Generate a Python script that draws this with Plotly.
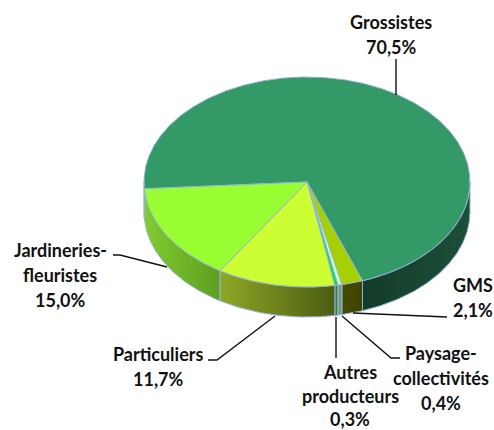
import numpy as np
import plotly.graph_objects as go

categories = ["Grossistes", "GMS", "Paysage-collectivités", "Autres producteurs", "Particuliers", "Jardineries-fleuristes"]
shares = [70.5, 2.1, 0.4, 0.3, 11.7, 15.0]
top_colors = ["#339966", "#A6D000", "#CCFFCC", "#00E040", "#CCFF33", "#99FF33"]
side_left = ["#1C4F38", "#454D00", "#7C9C86", "#3F8038", "#8FA726", "#82CC30"]
side_right = ["#143C2A", "#3C4300", "#6F8F80", "#3A7030", "#4B5D12", "#5D9E20"]
label_lines = [["Grossistes", "70,5%"], ["GMS", "2,1%"], ["Paysage-", "collectivités", "0,4%"],
               ["Autres", "producteurs", "0,3%"], ["Particuliers", "11,7%"], ["Jardineries-", "fleuristes", "15,0%"]]

W, H = 494, 430
CX, CY, RX, RY, DEPTH = 307, 182, 163, 105, 30
START = 176.3
EDGE = "#95B3D7"
label_anchor = [(391, 22), (473, 285), (441, 353), (350, 372), (158, 354), (60, 250)]
label_step = [25, 25, 25, 23.5, 25, 25]
leaders = [[(396, 59), (396, 95)], [(447, 317), (353, 313)], [(400, 358), (391, 358), (342, 316)],
           [(336, 358), (336, 317)], [(208, 360), (217, 360), (275, 316)], [(113, 255), (120, 255), (167, 267)]]


def arc(a, b, dy=0):
    t = np.radians(np.linspace(a, b, max(int(abs(b - a)) * 2, 3)))
    return CX + RX * np.cos(t), CY + dy + RY * np.sin(t)


fig = go.Figure()
angles = START + np.cumsum([0] + [s * 3.6 for s in shares])
spans = list(zip(angles[:-1], angles[1:]))

# walls: only the part of each slice on the front of the ellipse (0..180 degrees, mod 360)
for i, (a, b) in enumerate(spans):
    for offset in (0, -360):
        lo, hi = max(a + offset, 0), min(b + offset, 180)
        if hi <= lo:
            continue
        x1, y1 = arc(lo, hi)
        x2, y2 = arc(hi, lo, DEPTH)
        fig.add_trace(go.Scatter(
            x=np.r_[x1, x2, x1[0]], y=np.r_[y1, y2, y1[0]], mode="lines", fill="toself",
            line=dict(color=EDGE, width=1), hoverinfo="skip", showlegend=False,
            fillgradient=dict(type="horizontal",
                              colorscale=[[0, side_right[i]], [1, side_left[i]]] if i == 0 else
                                         [[0, side_left[i]], [1, side_right[i]]])))

# top faces
for i, (a, b) in enumerate(spans):
    x, y = arc(a, b)
    fig.add_trace(go.Scatter(
        x=np.r_[CX, x, CX], y=np.r_[CY, y, CY], mode="lines", fill="toself", fillcolor=top_colors[i],
        line=dict(color=EDGE, width=1), name=categories[i], text=f"{shares[i]}%", hoverinfo="name+text",
        showlegend=False))

# leader lines
for pts in leaders:
    fig.add_trace(go.Scatter(x=[p[0] for p in pts], y=[p[1] for p in pts], mode="lines",
                             line=dict(color="#111111", width=1.4), hoverinfo="skip", showlegend=False))

# labels
for lines, (lx, ly), step in zip(label_lines, label_anchor, label_step):
    for k, s in enumerate(lines):
        fig.add_annotation(x=lx, y=ly + k * step, text=f"<b>{s}</b>", showarrow=False,
                           xanchor="center", yanchor="middle",
                           font=dict(family="Lato", size=18, color="#111111"))

fig.update_layout(
    width=W, height=H, margin=dict(l=0, r=0, t=0, b=0), paper_bgcolor="white", plot_bgcolor="white",
    xaxis=dict(range=[0, W], visible=False, fixedrange=True),
    yaxis=dict(range=[H, 0], visible=False, fixedrange=True),
)
fig.write_html("out.html", config=dict(displayModeBar=False),
               post_script="document.body.style.margin='0';document.documentElement.style.overflow='hidden';")
